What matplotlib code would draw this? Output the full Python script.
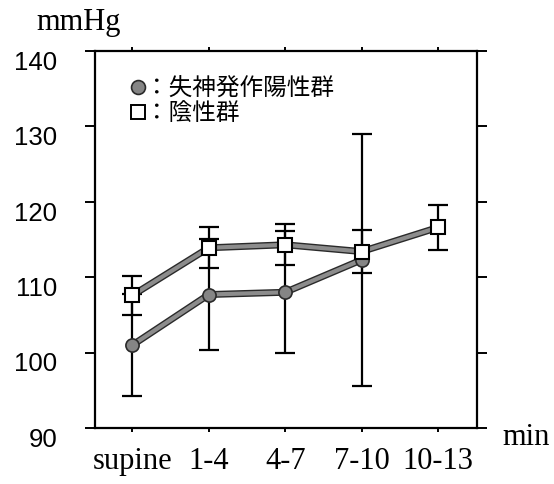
import matplotlib
matplotlib.use("Agg")
import matplotlib.pyplot as plt
import matplotlib.patheffects as pe
import matplotlib.transforms as mtransforms
from matplotlib.lines import Line2D
import numpy as np

# ---- data ----
categories = ['supine', '1-4', '4-7', '7-10', '10-13']
pos_mean = [101.0, 107.7, 108.0, 112.3]          # 失神発作陽性群 (circles)
pos_sd = [6.8, 7.3, 8.1, 16.7]
neg_mean = [107.6, 113.9, 114.3, 113.4, 116.6]   # 陰性群 (squares)
neg_sd = [2.6, 2.7, 2.7, 2.8, 3.0]
yticks = [90, 100, 110, 120, 130, 140]
legend_labels = ['：失神発作陽性群', '：陰性群']

serif = ['Liberation Serif', 'DejaVu Serif']
sans = ['Liberation Sans', 'DejaVu Sans']
jp = ['Noto Sans CJK JP', 'DejaVu Sans']

fig = plt.figure(figsize=(5.54, 4.85), dpi=100)
ax = fig.add_axes([95 / 554, 1 - 429 / 485, (477 - 95) / 554, (429 - 52) / 485])

x_pos = np.arange(len(pos_mean))
x_neg = np.arange(len(neg_mean))

line_gray = '#8c8c8c'
edge = '#2a2a2a'
outline = [pe.Stroke(linewidth=5.0, foreground=edge), pe.Normal()]

# error bars (behind)
ax.errorbar(x_pos, pos_mean, yerr=pos_sd, fmt='none', ecolor='black',
            elinewidth=1.6, capsize=7, capthick=1.6, zorder=1)
ax.errorbar(x_neg, neg_mean, yerr=neg_sd, fmt='none', ecolor='black',
            elinewidth=1.6, capsize=7, capthick=1.6, zorder=1)

# lines
ax.plot(x_pos, pos_mean, color=line_gray, lw=3, zorder=2,
        path_effects=outline, solid_capstyle='round')
ax.plot(x_neg, neg_mean, color=line_gray, lw=3, zorder=2,
        path_effects=outline, solid_capstyle='round')

# markers
ax.plot(x_pos, pos_mean, ls='none', marker='o', ms=9.5, mfc='#858585',
        mec=edge, mew=1.2, zorder=3)
ax.plot(x_neg, neg_mean, ls='none', marker='s', ms=10, mfc='white',
        mec='black', mew=1.5, zorder=4)

ax.set_xlim(-0.49, 4.51)
ax.set_ylim(90, 140)
ax.set_xticks(range(len(categories)))
ax.set_xticklabels(categories, fontfamily=serif, fontsize=22)
ax.set_yticks(yticks)
ax.set_yticklabels([str(v) for v in yticks], fontfamily=sans, fontsize=18.5)

for s in ax.spines.values():
    s.set_linewidth(1.6)

ax.tick_params(axis='y', which='both', direction='out', length=7, width=1.4,
               left=True, right=True, pad=20)
ax.tick_params(axis='x', which='both', direction='out', length=3, width=1.4,
               bottom=True, top=True, pad=10)

# shift y tick labels slightly downward as in the reference
off = mtransforms.ScaledTranslation(0, -6 / 72, fig.dpi_scale_trans)
for lab in ax.get_yticklabels():
    lab.set_transform(lab.get_transform() + off)

fig.text(36 / 554, 1 - 30 / 485, 'mmHg', fontfamily=serif, fontsize=22,
         ha='left', va='baseline')
fig.text(502 / 554, 1 - 445 / 485, 'min', fontfamily=serif, fontsize=22,
         ha='left', va='baseline')

handles = [
    Line2D([], [], ls='none', marker='o', ms=10, mfc='#858585', mec=edge, mew=1.2),
    Line2D([], [], ls='none', marker='s', ms=10, mfc='white', mec='black', mew=1.4),
]
leg = ax.legend(handles, legend_labels, loc='upper left',
                bbox_to_anchor=((132 - 95) / 382, (429 - 78) / 377),
                frameon=False, borderpad=0, borderaxespad=0,
                handlelength=0.55, handletextpad=0.0, labelspacing=0.1,
                prop={'family': jp, 'size': 17})

fig.savefig('out.png', dpi=100)
